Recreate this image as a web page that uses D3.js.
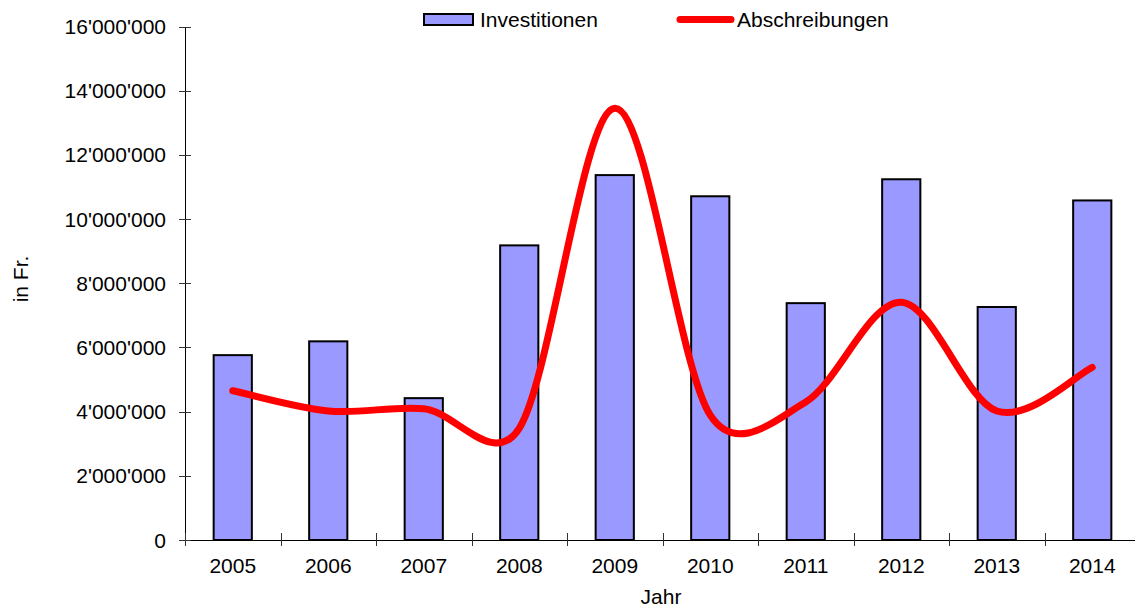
<!DOCTYPE html>
<html>
<head>
<meta charset="utf-8">
<script src="https://cdn.jsdelivr.net/npm/d3@7"></script>
<style>
  html, body { margin: 0; padding: 0; background: #fff; }
  svg { display: block; font-family: "Liberation Sans", Arial, sans-serif; }
</style>
</head>
<body>
<svg id="chart" width="1135" height="610"></svg>
<script>
const years = ["2005","2006","2007","2008","2009","2010","2011","2012","2013","2014"];
const investitionen = [5760000, 6190000, 4420000, 9180000, 11370000, 10710000, 7380000, 11240000, 7260000, 10580000];
const abschreibungen = [4650000, 4020000, 4090000, 3480000, 13450000, 3890000, 4300000, 7410000, 4020000, 5380000];
const yTicks = [0, 2000000, 4000000, 6000000, 8000000, 10000000, 12000000, 14000000, 16000000];
const seriesNames = ["Investitionen", "Abschreibungen"];
const xTitle = "Jahr";
const yTitle = "in Fr.";

(function () {
// Spreadsheet-style smoothed line (Bezier with limited control-point length)
function ExcelSmooth(context) { this._context = context; }
ExcelSmooth.prototype = {
  areaStart() { this._line = 0; },
  areaEnd() { this._line = NaN; },
  lineStart() { this._pts = []; },
  point(px, py) { this._pts.push([+px, +py]); },
  lineEnd() {
    const p = this._pts, n = p.length, c = this._context;
    if (!n) return;
    c.moveTo(p[0][0], p[0][1]);
    const dist = (a, b) => Math.hypot(a[0] - b[0], a[1] - b[1]);
    for (let i = 0; i < n - 1; i++) {
      const p0 = p[i > 0 ? i - 1 : i], p1 = p[i], p2 = p[i + 1], p3 = p[i + 2 < n ? i + 2 : i + 1];
      const d12 = dist(p1, p2), d02 = dist(p0, p2), d13 = dist(p1, p3);
      let f0 = 1 / 6, f1 = 1 / 6;
      if (d02 > 0 && d02 / 6 >= d12 / 2) f0 = d12 / d02 / 2;
      if (d13 > 0 && d13 / 6 >= d12 / 2) f1 = d12 / d13 / 2;
      c.bezierCurveTo(
        p1[0] + (p2[0] - p0[0]) * f0, p1[1] + (p2[1] - p0[1]) * f0,
        p2[0] - (p3[0] - p1[0]) * f1, p2[1] - (p3[1] - p1[1]) * f1,
        p2[0], p2[1]);
    }
  }
};
const curveExcel = context => new ExcelSmooth(context);

const svg = d3.select("#chart");
const pLeft = 185, pRight = 1140, pTop = 26.5, pBottom = 540;

const x = d3.scaleBand().domain(years).range([pLeft, pRight]).paddingInner(0.6).paddingOuter(0.3);
const xEdge = d3.scaleBand().domain(years).range([pLeft, pRight]).padding(0);
const y = d3.scaleLinear().domain([0, 16000000]).range([pBottom, pTop]);
const loc = d3.formatLocale({decimal: ".", thousands: "'", grouping: [3], currency: ["", ""]});
const fmt = loc.format(",d");
const cx = d => x(d) + x.bandwidth() / 2;

// Bars
svg.append("g").selectAll("rect").data(years).join("rect")
  .attr("x", d => x(d))
  .attr("y", (d, i) => y(investitionen[i]))
  .attr("width", x.bandwidth())
  .attr("height", (d, i) => y(0) - y(investitionen[i]))
  .attr("fill", "#9999FF")
  .attr("stroke", "#000")
  .attr("stroke-width", 2);

// Axes
const ax = svg.append("g").attr("stroke", "#000").attr("stroke-width", 1).attr("shape-rendering", "crispEdges");
ax.append("line").attr("x1", pLeft + 0.5).attr("x2", pLeft + 0.5).attr("y1", y(16000000)).attr("y2", pBottom);
ax.append("line").attr("x1", pLeft).attr("x2", 1135).attr("y1", pBottom + 0.5).attr("y2", pBottom + 0.5);
ax.selectAll(".yt").data(yTicks).join("line")
  .attr("x1", pLeft - 6).attr("x2", pLeft + 6)
  .attr("y1", d => Math.round(y(d)) + 0.5).attr("y2", d => Math.round(y(d)) + 0.5)
  .attr("stroke", "#333");
const edges = years.map(d => xEdge(d)).concat([pRight]);
ax.selectAll(".xt").data(edges).join("line")
  .attr("x1", d => Math.round(d) + 0.5).attr("x2", d => Math.round(d) + 0.5)
  .attr("y1", pBottom - 7).attr("y2", pBottom + 6)
  .attr("stroke", "#333");

// Tick labels
svg.append("g").selectAll("text").data(yTicks).join("text")
  .attr("x", 166).attr("y", d => y(d)).attr("dy", "0.36em")
  .attr("text-anchor", "end").attr("font-size", 21).attr("fill", "#000")
  .text(d => fmt(d));
svg.append("g").selectAll("text").data(years).join("text")
  .attr("x", d => cx(d)).attr("y", 573)
  .attr("text-anchor", "middle").attr("font-size", 21).attr("fill", "#000")
  .text(d => d);

// Axis titles
svg.append("text").attr("x", 661).attr("y", 604).attr("text-anchor", "middle")
  .attr("font-size", 21).text(xTitle);
svg.append("text").attr("transform", "translate(28,279) rotate(-90)").attr("text-anchor", "middle")
  .attr("font-size", 21).text(yTitle);

// Line
const line = d3.line().x((d, i) => cx(years[i])).y(d => y(d)).curve(curveExcel);
svg.append("path").datum(abschreibungen).attr("d", line)
  .attr("fill", "none").attr("stroke", "#FF0000").attr("stroke-width", 7)
  .attr("stroke-linecap", "round").attr("stroke-linejoin", "round");

// Legend
const lg = svg.append("g");
lg.append("rect").attr("x", 424).attr("y", 14).attr("width", 49).attr("height", 11)
  .attr("fill", "#9999FF").attr("stroke", "#000").attr("stroke-width", 2);
lg.append("text").attr("x", 480).attr("y", 27).attr("font-size", 21).text(seriesNames[0]);
lg.append("line").attr("x1", 680).attr("x2", 731).attr("y1", 19.5).attr("y2", 19.5)
  .attr("stroke", "#FF0000").attr("stroke-width", 7).attr("stroke-linecap", "round");
lg.append("text").attr("x", 737).attr("y", 27).attr("font-size", 21).text(seriesNames[1]);
})();
</script>
</body>
</html>
